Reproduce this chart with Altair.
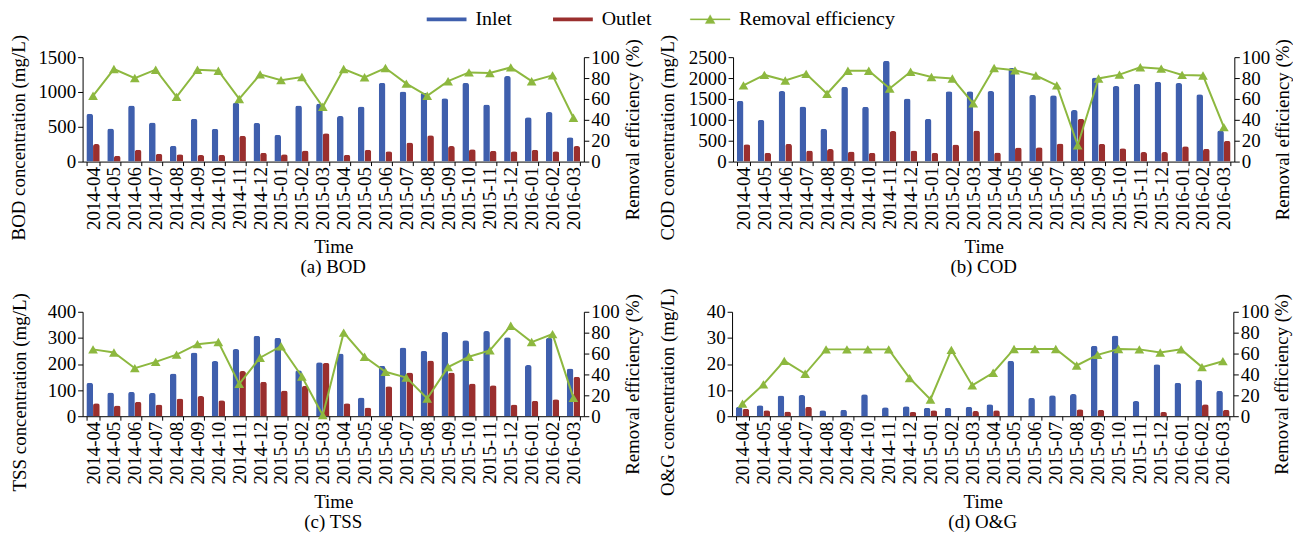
import altair as alt
import pandas as pd

months = ["2014-04", "2014-05", "2014-06", "2014-07", "2014-08", "2014-09", "2014-10", "2014-11",
          "2014-12", "2015-01", "2015-02", "2015-03", "2015-04", "2015-05", "2015-06", "2015-07",
          "2015-08", "2015-09", "2015-10", "2015-11", "2015-12", "2016-01", "2016-02", "2016-03"]

bod_inlet = [688, 476, 807, 560, 228, 617, 470, 845, 555, 384, 807, 835, 655, 793, 1130, 1006,
             987, 911, 1130, 821, 1229, 636, 712, 351]
bod_outlet = [252, 85, 171, 114, 104, 95, 100, 370, 128, 104, 161, 408, 100, 171, 147, 275,
              380, 223, 176, 157, 147, 171, 147, 223]
bod_eff = [63, 88.6, 80, 88, 62, 88, 87, 60, 83.5, 78, 81, 52.5, 88.6, 80.7, 89.6, 74.7,
           63, 77, 85.4, 84.8, 90.2, 77, 82.6, 42]

cod_inlet = [1454, 998, 1690, 1320, 786, 1792, 1313, 2413, 1509, 1022, 1682, 1682, 1690, 2240,
             1596, 1588, 1234, 2012, 1808, 1863, 1910, 1879, 1611, 747]
cod_outlet = [417, 212, 424, 267, 299, 244, 212, 731, 267, 212, 409, 747, 220, 338, 346, 432,
              1022, 424, 322, 228, 228, 369, 307, 495]
cod_eff = [73, 83, 77.7, 84, 65, 87, 87, 70, 86, 81, 79.6, 55.7, 89.6, 87.4, 82.4, 73, 15.7,
           79.6, 83.3, 90.3, 89, 83, 82.4, 33]

tss_inlet = [128, 91, 93, 89, 164, 244, 211, 257, 308, 300, 176, 207, 240, 72, 193, 263, 250,
             323, 291, 326, 302, 196, 300, 183]
tss_outlet = [50, 41, 55, 45, 68, 77, 61, 173, 132, 98, 116, 204, 50, 33, 115, 167, 213, 167,
              125, 119, 45, 59, 65, 151]
tss_eff = [64, 61, 46, 52, 59, 69, 71, 31, 56, 67, 38, 1, 80, 57, 42.5, 37, 17, 47, 57, 63,
           86.6, 71, 78.6, 17.6]

og_inlet = [3.6, 4.2, 7.9, 8.1, 2.3, 2.5, 8.4, 3.4, 3.8, 3.2, 3.2, 3.6, 4.6, 21.2, 7.0, 8.0,
            8.5, 27.0, 30.9, 5.8, 19.9, 12.8, 14.0, 9.7]
og_outlet = [2.9, 2.3, 1.8, 3.6, 0, 0, 0, 0, 1.6, 2.3, 0, 2.0, 2.3, 0, 0, 0, 2.7, 2.5, 0, 0,
             1.6, 0, 4.6, 2.5]
og_eff = [12, 30.5, 53, 40.6, 64, 64, 64, 64, 36.5, 16, 63.5, 29.5, 41.6, 64.4, 64.4, 64.4,
          48.6, 58.7, 64.4, 64, 61, 64, 47, 52.7]

bar_series = ["Inlet", "Outlet"]
bar_colors = ["#3F5FAD", "#9A2F2E"]
eff_series = ["Removal efficiency"]
eff_color = "#8DB83F"
eff_ticks = [0, 20, 40, 60, 80, 100]

FONT = "Liberation Serif"
FS = 19
W, H = 504, 105

# legend symbol paths (unit = 5 px with symbolSize 100): 40 px wide starting at entry left
RECT = "M-1,-0.4H7V0.4H-1Z"
LINE_TRI = "M-1,-0.12H7V0.12H-1Z M2,0.85L3,-0.95L4,0.85Z"

bar_legend = alt.Legend(
    title=None, orient="none", legendX=341, legendY=-48, direction="horizontal",
    labelFont=FONT, labelFontSize=20, labelColor="black", symbolSize=100,
    symbolType=RECT, symbolStrokeWidth=0, columnPadding=36, labelOffset=34, padding=0,
)
eff_legend = alt.Legend(
    title=None, orient="none", legendX=606, legendY=-48, direction="horizontal",
    labelFont=FONT, labelFontSize=20, labelColor="black", symbolSize=100,
    symbolType=LINE_TRI, symbolFillColor=eff_color, symbolStrokeColor=eff_color,
    symbolStrokeWidth=0.3, labelOffset=34, padding=0,
)


def panel(inlet, outlet, eff, ymax, ystep, ytitle, caption, ltp):
    bar_df = pd.DataFrame({
        "month": months * 2,
        "series": ["Inlet"] * len(months) + ["Outlet"] * len(months),
        "value": list(inlet) + list(outlet),
    })
    eff_df = pd.DataFrame({"month": months, "series": "Removal efficiency", "value": eff})

    x = alt.X("month:N", sort=months,
              scale=alt.Scale(paddingInner=0.36, paddingOuter=0.18),
              axis=alt.Axis(title="Time", labelAngle=-90, tickBand="extent", tickSize=4,
                            labelPadding=1, titlePadding=8))

    bars = alt.Chart(bar_df).mark_bar(cornerRadiusTopLeft=2.5, cornerRadiusTopRight=2.5).encode(
        x=x,
        xOffset=alt.XOffset("series:N", sort=bar_series,
                            scale=alt.Scale(domain=bar_series, paddingInner=0,
                                            paddingOuter=0)),
        y=alt.Y("value:Q", scale=alt.Scale(domain=[0, ymax], nice=False),
                axis=alt.Axis(title=ytitle, values=list(range(0, ymax + 1, ystep)),
                              format="d", tickSize=5, labelPadding=2, titlePadding=ltp,
                              titleY=H / 2 + 28)),
        fill=alt.Fill("series:N", scale=alt.Scale(domain=bar_series, range=bar_colors),
                      legend=bar_legend),
    )

    y_eff = alt.Y("value:Q", scale=alt.Scale(domain=[0, 100], nice=False),
                  axis=alt.Axis(orient="right", title="Removal efficiency (%)",
                                values=eff_ticks, format="d", tickSize=5, labelPadding=2,
                                titlePadding=4, titleAngle=270, titleBaseline="top",
                                titleY=H / 2 + 20))
    line = alt.Chart(eff_df).mark_line(strokeWidth=2).encode(
        x=x, y=y_eff,
        stroke=alt.Stroke("series:N", scale=alt.Scale(domain=eff_series, range=[eff_color]),
                          legend=eff_legend),
    )
    pts = alt.Chart(eff_df).mark_point(shape="triangle-up", filled=True, size=95,
                                       color=eff_color, opacity=1).encode(x=x, y=y_eff)

    return alt.layer(bars, alt.layer(line, pts)).resolve_scale(y="independent").properties(
        width=W, height=H,
        title=alt.Title(caption, orient="bottom", font=FONT, fontSize=FS,
                        fontWeight="normal", color="black", offset=2),
    )


pa = panel(bod_inlet, bod_outlet, bod_eff, 1500, 500, "BOD concentration (mg/L)", "(a) BOD", 9)
pb = panel(cod_inlet, cod_outlet, cod_eff, 2500, 500, "COD concentration (mg/L)", "(b) COD", 11)
pc = panel(tss_inlet, tss_outlet, tss_eff, 400, 100, "TSS concentration (mg/L)", "(c) TSS", 18)
pd_ = panel(og_inlet, og_outlet, og_eff, 40, 10, "O&G concentration (mg/L)", "(d) O&G", 29)

chart = alt.vconcat(
    alt.hconcat(pa, pb, spacing=16),
    alt.hconcat(pc, pd_, spacing=16),
    spacing=10,
).properties(
    padding={"left": 2, "top": 0, "right": 0, "bottom": 0},
).configure_axis(
    labelFont=FONT, labelFontSize=FS, titleFont=FONT, titleFontSize=FS,
    titleFontWeight="normal", labelColor="black", titleColor="black",
    domainColor="black", tickColor="black", grid=False,
).configure_view(stroke=None)

chart.save("out.html", embed_options={"renderer": "svg", "actions": False})
